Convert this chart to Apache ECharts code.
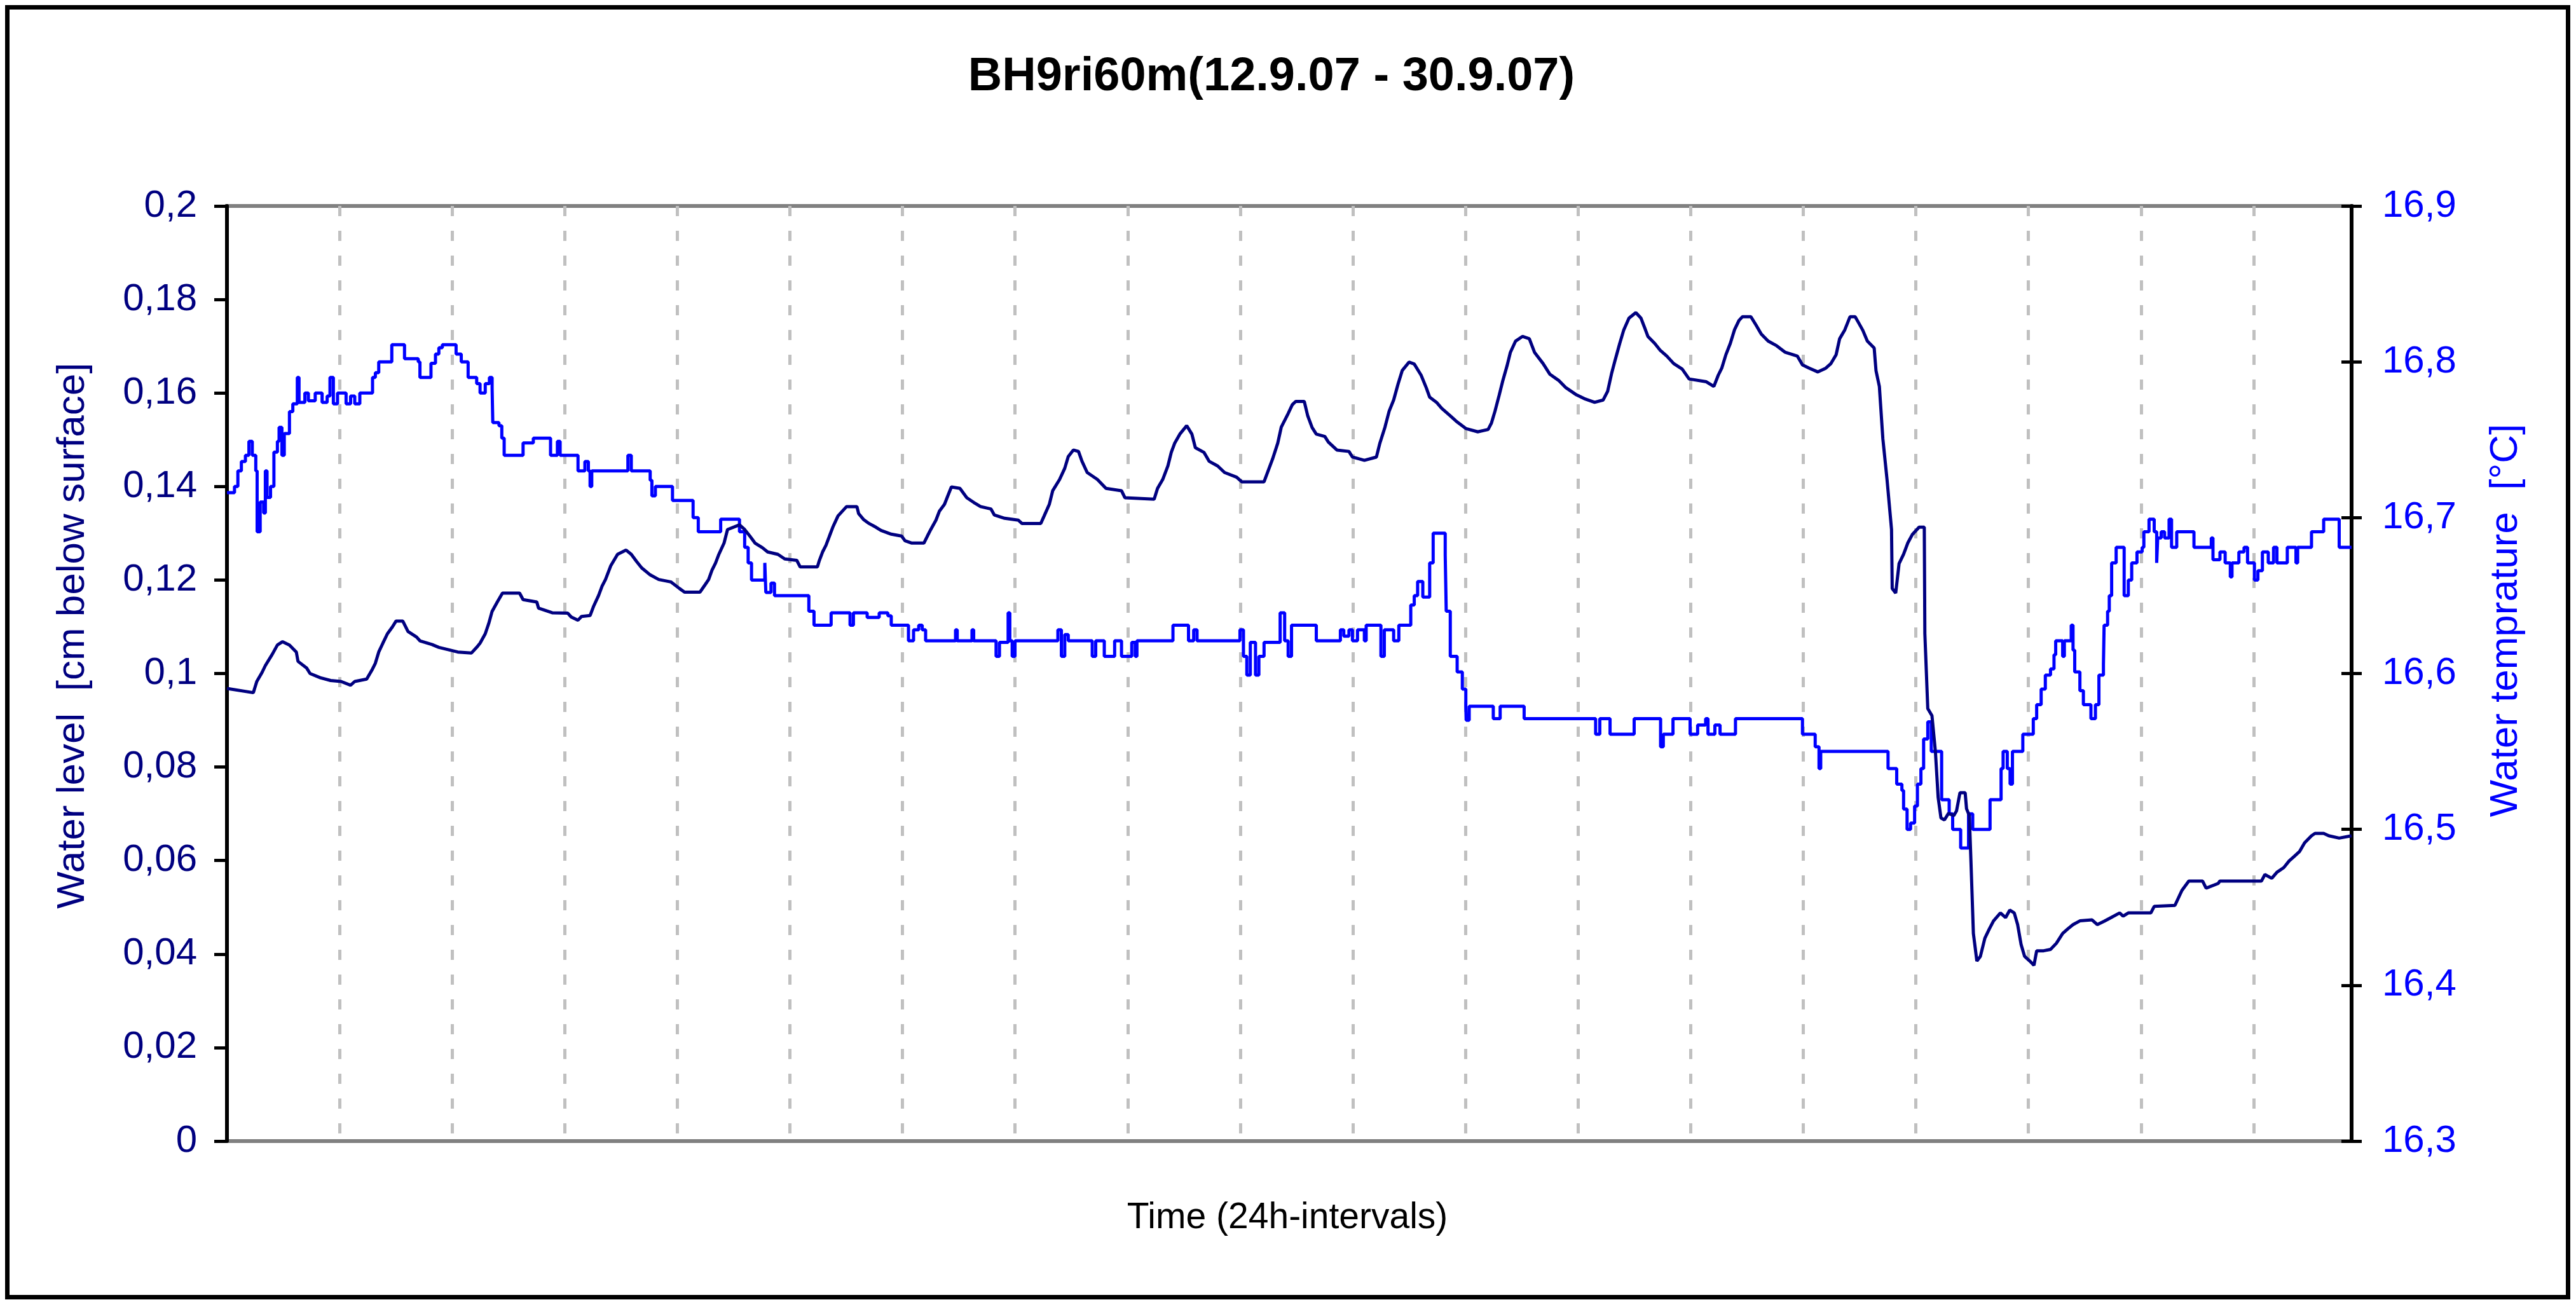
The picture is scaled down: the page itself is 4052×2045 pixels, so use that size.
<!DOCTYPE html>
<html>
<head>
<meta charset="utf-8">
<script src="https://cdn.jsdelivr.net/npm/echarts@6/dist/echarts.min.js"></script>
<style>
html,body{margin:0;padding:0;background:#fff;}
#chart{width:4052px;height:2045px;}
</style>
</head>
<body>
<div id="chart"></div>
<script>
// Time in days (24h intervals) from start of record
const levelTime = [0.0,0.234,0.265,0.311,0.341,0.402,0.448,0.494,0.555,0.616,0.631,0.707,0.738,0.829,0.921,1.013,1.098,1.135,1.241,1.287,1.318,1.348,1.385,1.425,1.470,1.501,1.562,1.608,1.684,1.714,1.821,1.882,2.050,2.172,2.218,2.248,2.294,2.325,2.355,2.401,2.447,2.599,2.630,2.752,2.767,2.889,3.027,3.057,3.118,3.149,3.225,3.255,3.301,3.332,3.362,3.408,3.469,3.545,3.591,3.637,3.683,3.759,3.835,3.942,4.018,4.064,4.201,4.247,4.278,4.308,4.339,4.369,4.415,4.446,4.552,4.598,4.644,4.690,4.756,
4.802,4.893,4.954,5.061,5.091,5.244,5.259,5.290,5.320,5.351,5.381,5.427,5.503,5.595,5.610,5.656,5.702,5.763,5.809,5.900,5.992,6.022,6.083,6.190,6.221,6.251,6.297,6.327,6.373,6.404,6.434,6.510,6.571,6.632,6.693,6.785,6.816,6.907,7.029,7.060,7.228,7.258,7.304,7.334,7.395,7.441,7.472,7.517,7.563,7.594,7.640,7.731,7.807,7.945,7.975,8.235,8.265,8.311,8.357,8.387,8.418,8.463,8.524,8.570,8.601,8.677,8.723,8.799,8.860,8.967,9.013,9.211,9.242,9.287,9.333,9.364,9.425,
9.462,9.492,9.568,9.599,9.638,9.675,9.751,9.782,9.858,9.965,9.996,10.102,10.209,10.240,10.285,10.322,10.362,10.401,10.438,10.499,10.545,10.606,10.652,10.682,10.743,10.789,10.865,10.926,11.003,11.109,11.201,11.231,11.262,11.299,11.329,11.369,11.399,11.445,11.506,11.567,11.613,11.689,11.750,11.827,11.888,11.979,12.055,12.147,12.223,12.263,12.299,12.330,12.370,12.406,12.452,12.513,12.559,12.589,12.620,12.681,12.727,12.788,12.849,12.925,12.986,13.139,13.206,13.245,13.276,13.313,13.352,13.389,13.429,13.459,13.535,13.581,13.627,13.688,13.764,13.840,13.947,13.993,14.054,14.130,
14.200,14.246,14.292,14.323,14.369,14.415,14.461,14.492,14.529,14.569,14.630,14.646,14.676,14.707,14.744,14.784,14.790,14.821,14.851,14.891,14.928,14.968,15.029,15.075,15.080,15.106,15.143,15.174,15.198,15.223,15.254,15.290,15.336,15.361,15.392,15.438,15.450,15.475,15.490,15.511,15.542,15.573,15.613,15.653,15.690,15.751,15.797,15.834,15.874,15.904,15.935,15.966,16.012,16.049,16.073,16.135,16.196,16.248,16.304,16.350,16.396,16.457,16.565,16.611,16.672,16.733,16.810,16.841,16.887,17.087,17.117,17.301,17.332,17.363,17.424,17.547,17.578,17.685,17.700,18.069,18.100,18.161,18.207,18.268,18.315,18.361,18.407,18.453,18.514,18.545,18.622,18.668,18.760,18.870];

// Water level [cm below surface]
const levelValue = [0.0968,0.0959,0.0983,0.1002,0.1017,0.1041,0.1061,0.1068,0.1061,0.1046,0.1026,0.1012,0.1000,0.0991,0.0985,0.0983,0.0975,0.0983,0.0988,0.1007,0.1022,0.1046,0.1065,0.1085,0.1100,0.1112,0.1112,0.1090,0.1078,0.1070,0.1062,0.1056,0.1046,0.1044,0.1056,0.1065,0.1085,0.1107,0.1133,0.1153,0.1172,0.1172,0.1158,0.1153,0.1140,0.1130,0.1129,0.1121,0.1114,0.1122,0.1124,0.1143,0.1167,0.1187,0.1201,0.1230,0.1255,0.1264,0.1255,0.1240,0.1226,0.1211,0.1201,0.1196,0.1182,0.1174,0.1174,0.1190,0.1201,0.1221,0.1236,0.1255,0.1279,0.1308,0.1318,0.1308,0.1294,0.1279,0.1269,
0.1260,0.1255,0.1245,0.1242,0.1228,0.1228,0.1240,0.1260,0.1274,0.1294,0.1313,0.1337,0.1357,0.1357,0.1342,0.1329,0.1321,0.1313,0.1306,0.1298,0.1294,0.1284,0.1279,0.1279,0.1294,0.1308,0.1328,0.1347,0.1362,0.1381,0.1399,0.1396,0.1376,0.1366,0.1357,0.1352,0.1339,0.1332,0.1328,0.1321,0.1321,0.1337,0.1362,0.1391,0.1415,0.1439,0.1464,0.1478,0.1475,0.1454,0.1430,0.1415,0.1396,0.1391,0.1376,0.1373,0.1396,0.1415,0.1444,0.1473,0.1493,0.1512,0.1530,0.1512,0.1483,0.1473,0.1454,0.1444,0.1430,0.1420,0.1410,0.1410,0.1430,0.1459,0.1493,0.1527,0.1556,
0.1575,0.1582,0.1582,0.1551,0.1526,0.1512,0.1507,0.1495,0.1478,0.1475,0.1463,0.1456,0.1463,0.1493,0.1527,0.1561,0.1585,0.1619,0.1648,0.1666,0.1662,0.1638,0.1611,0.1591,0.1580,0.1567,0.1551,0.1538,0.1524,0.1517,0.1522,0.1536,0.1561,0.1595,0.1624,0.1658,0.1687,0.1711,0.1721,0.1716,0.1687,0.1663,0.1640,0.1627,0.1612,0.1597,0.1588,0.1580,0.1585,0.1604,0.1643,0.1671,0.1706,0.1735,0.1760,0.1772,0.1760,0.1741,0.1721,0.1706,0.1692,0.1679,0.1663,0.1651,0.1630,0.1624,0.1614,0.1638,0.1653,0.1682,0.1706,0.1735,0.1755,0.1763,0.1763,0.1745,0.1726,0.1711,0.1701,0.1687,0.1679,0.1660,0.1653,0.1645,
0.1653,0.1663,0.1682,0.1716,0.1735,0.1763,0.1763,0.1750,0.1734,0.1711,0.1696,0.1648,0.1614,0.1502,0.1415,0.1308,0.1182,0.1172,0.1235,0.1255,0.1279,0.1297,0.1313,0.1313,0.1085,0.0925,0.0910,0.0832,0.0735,0.0691,0.0687,0.0701,0.0696,0.0706,0.0745,0.0745,0.0711,0.0696,0.0594,0.0444,0.0385,0.0395,0.0434,0.0454,0.0471,0.0488,0.0478,0.0494,0.0488,0.0463,0.0420,0.0395,0.0385,0.0376,0.0407,0.0407,0.0410,0.0423,0.0444,0.0454,0.0463,0.0471,0.0473,0.0463,0.0470,0.0478,0.0488,0.0481,0.0488,0.0488,0.0502,0.0504,0.0520,0.0536,0.0556,0.0556,0.0541,0.0551,0.0556,0.0556,0.0570,0.0562,0.0575,0.0585,0.0599,0.0609,0.0619,0.0638,0.0653,0.0658,0.0658,0.0653,0.0648,0.0653];

// Water temperature [°C]
const tempTime = [0.000,0.067,0.097,0.128,0.164,0.195,0.225,0.256,0.268,0.295,0.326,0.341,0.356,0.387,0.417,0.448,0.463,0.488,0.509,0.555,0.585,0.625,0.640,0.692,0.723,0.784,0.845,0.890,0.915,0.945,0.982,1.058,1.098,1.135,1.180,1.293,1.318,1.348,1.464,1.577,1.699,1.714,1.812,1.852,1.882,1.913,2.035,2.081,2.142,2.218,2.248,2.294,2.331,2.355,2.361,2.416,2.441,2.462,2.630,2.721,2.874,2.935,2.959,3.118,3.179,3.210,3.225,3.240,3.561,3.591,3.759,3.774,3.805,3.957,4.140,4.186,4.385,4.552,4.598,4.629,4.659,
4.777,4.786,4.832,4.863,5.168,5.214,5.366,5.534,5.564,5.686,5.793,5.870,5.900,6.053,6.098,6.144,6.175,6.205,6.471,6.486,6.617,6.632,6.831,6.861,6.938,6.953,6.974,6.999,7.380,7.411,7.441,7.472,7.685,7.716,7.792,7.884,7.945,8.036,8.067,8.082,8.402,8.540,8.586,8.616,8.997,9.028,9.058,9.089,9.135,9.165,9.211,9.354,9.394,9.425,9.455,
9.675,9.889,9.919,9.965,9.996,10.041,10.102,10.118,10.249,10.279,10.362,10.408,10.514,10.545,10.575,10.621,10.682,10.713,10.820,10.829,10.865,10.926,10.972,11.003,11.006,11.033,11.247,11.308,11.521,12.156,12.193,12.284,12.498,12.733,12.757,12.843,12.995,13.062,13.133,13.154,13.215,13.261,13.398,13.993,14.106,14.140,14.155,
14.753,14.830,14.876,14.891,14.922,14.953,14.989,15.014,15.045,15.069,15.106,15.137,15.229,15.296,15.327,15.398,15.468,15.505,15.659,15.757,15.775,15.812,15.837,15.858,15.950,16.043,16.073,16.113,16.150,16.196,16.227,16.242,16.304,16.319,16.380,16.396,16.411,16.457,16.488,16.555,16.595,16.626,16.666,16.672,16.703,16.718,16.739,16.779,16.850,16.887,16.917,16.964,17.010,17.025,17.071,17.117,17.139,17.148,17.179,17.209,17.249,17.271,17.317,17.470,17.624,17.639,17.701,17.747,17.793,17.808,17.869,17.915,17.946,18.007,18.038,18.078,18.130,18.177,18.207,18.299,18.376,18.391,18.514,18.622,18.760,18.870];

const tempValue = [16.716,16.720,16.730,16.736,16.740,16.749,16.740,16.730,16.691,16.710,16.703,16.730,16.713,16.720,16.742,16.749,16.758,16.740,16.754,16.768,16.773,16.790,16.774,16.780,16.775,16.780,16.774,16.778,16.790,16.773,16.780,16.773,16.778,16.773,16.780,16.790,16.793,16.800,16.811,16.802,16.800,16.790,16.799,16.805,16.809,16.811,16.805,16.800,16.790,16.786,16.780,16.786,16.790,16.783,16.761,16.759,16.751,16.740,16.748,16.751,16.740,16.749,16.740,16.730,16.736,16.730,16.720,16.730,16.740,16.730,16.724,16.714,16.720,16.711,16.700,16.691,16.699,16.691,16.681,16.671,16.660,
16.671,16.652,16.658,16.650,16.640,16.631,16.639,16.631,16.639,16.636,16.639,16.637,16.631,16.621,16.628,16.631,16.628,16.621,16.628,16.621,16.628,16.621,16.611,16.620,16.639,16.621,16.611,16.621,16.628,16.611,16.625,16.621,16.611,16.621,16.611,16.621,16.611,16.620,16.611,16.621,16.631,16.621,16.628,16.621,16.628,16.611,16.599,16.620,16.599,16.611,16.620,16.639,16.621,16.611,16.631,
16.621,16.628,16.624,16.628,16.621,16.628,16.621,16.631,16.611,16.628,16.621,16.631,16.644,16.650,16.659,16.649,16.671,16.690,16.676,16.640,16.611,16.601,16.590,16.579,16.570,16.579,16.571,16.579,16.571,16.561,16.571,16.561,16.571,16.553,16.561,16.571,16.561,16.567,16.571,16.561,16.567,16.561,16.571,16.561,16.553,16.539,16.550,
16.539,16.529,16.525,16.513,16.500,16.504,16.515,16.529,16.539,16.558,16.569,16.550,16.519,16.510,16.500,16.488,16.510,16.500,16.519,16.539,16.550,16.539,16.529,16.550,16.561,16.571,16.580,16.590,16.599,16.603,16.612,16.621,16.611,16.621,16.631,16.615,16.601,16.589,16.580,16.571,16.580,16.599,16.606,16.631,16.640,16.650,16.671,16.681,16.650,16.660,16.671,16.678,16.681,16.691,16.699,16.691,16.671,16.687,16.691,16.687,16.699,16.681,16.691,16.681,16.687,16.673,16.678,16.671,16.662,16.671,16.678,16.681,16.671,16.660,16.666,16.678,16.671,16.681,16.671,16.681,16.671,16.681,16.691,16.699,16.681,16.681];

const titleText = 'BH9ri60m(12.9.07 - 30.9.07)';
const xName = 'Time (24h-intervals)';
const leftName = 'Water level  [cm below surface]';
const rightName = 'Water temprature  [°C]';

const FONT = '"Liberation Sans", Arial, sans-serif';
const chart = echarts.init(document.getElementById('chart'));

const levelData = levelTime.map((t, i) => [t, levelValue[i]]);
const tempData = tempTime.map((t, i) => [t, tempValue[i]]);

chart.setOption({
  animation: false,
  backgroundColor: '#ffffff',
  grid: {
    left: 357, top: 324, width: 3342, height: 1471,
    show: true, borderColor: '#808080', borderWidth: 6, backgroundColor: 'rgba(0,0,0,0)'
  },
  xAxis: {
    type: 'value', min: 0, max: 18.87, interval: 1,
    axisLine: { show: false }, axisTick: { show: false }, axisLabel: { show: false },
    splitLine: { show: true, lineStyle: { color: '#C0C0C0', width: 5, type: [16, 23] } }
  },
  yAxis: [
    {
      type: 'value', min: 0, max: 0.2, interval: 0.02, position: 'left',
      axisLine: { show: true, lineStyle: { color: '#000000', width: 6 } },
      axisTick: { show: true, length: 20, lineStyle: { color: '#000000', width: 5 } },
      axisLabel: {
        color: '#000080', fontSize: 60, fontFamily: FONT, margin: 47,
        formatter: v => String(+(+v).toFixed(2)).replace('.', ',')
      },
      splitLine: { show: false }
    },
    {
      type: 'value', min: 16.3, max: 16.9, interval: 0.1, position: 'right',
      axisLine: { show: true, lineStyle: { color: '#000000', width: 6 } },
      axisTick: { show: true, length: 16, lineStyle: { color: '#000000', width: 5 } },
      axisLabel: {
        color: '#0000FF', fontSize: 60, fontFamily: FONT, margin: 48,
        formatter: v => (+v).toFixed(1).replace('.', ',')
      },
      splitLine: { show: false }
    },
    {
      type: 'value', min: 16.3, max: 16.9, interval: 0.1, position: 'right',
      axisLine: { show: false },
      axisTick: { show: true, inside: true, length: 16, lineStyle: { color: '#000000', width: 5 } },
      axisLabel: { show: false },
      splitLine: { show: false }
    }
  ],
  series: [
    {
      name: 'Water temperature', type: 'line', yAxisIndex: 1, step: 'end',
      data: tempData, showSymbol: false, symbol: 'none',
      lineStyle: { color: '#0000FF', width: 5 }, z: 3
    },
    {
      name: 'Water level', type: 'line', yAxisIndex: 0,
      data: levelData, showSymbol: false, symbol: 'none',
      lineStyle: { color: '#000080', width: 5 }, z: 4
    }
  ],
  graphic: [
    { type: 'rect', z: 100, silent: true,
      shape: { x: 11.5, y: 11.5, width: 4028, height: 2029 },
      style: { fill: 'none', stroke: '#000000', lineWidth: 7 } },
    { type: 'text', z: 100, x: 2000, y: 122,
      style: { text: titleText, font: 'bold 74px ' + FONT, fill: '#000000', align: 'center', verticalAlign: 'middle' } },
    { type: 'text', z: 100, x: 2025, y: 1916,
      style: { text: xName, font: '57px ' + FONT, fill: '#000000', align: 'center', verticalAlign: 'middle' } },
    { type: 'text', z: 100, x: 115, y: 1000, rotation: Math.PI / 2,
      style: { text: leftName, font: '62px ' + FONT, fill: '#000080', align: 'center', verticalAlign: 'middle' } },
    { type: 'text', z: 100, x: 3942, y: 976, rotation: Math.PI / 2,
      style: { text: rightName, font: '62px ' + FONT, fill: '#0000FF', align: 'center', verticalAlign: 'middle' } }
  ]
});
</script>
</body>
</html>
